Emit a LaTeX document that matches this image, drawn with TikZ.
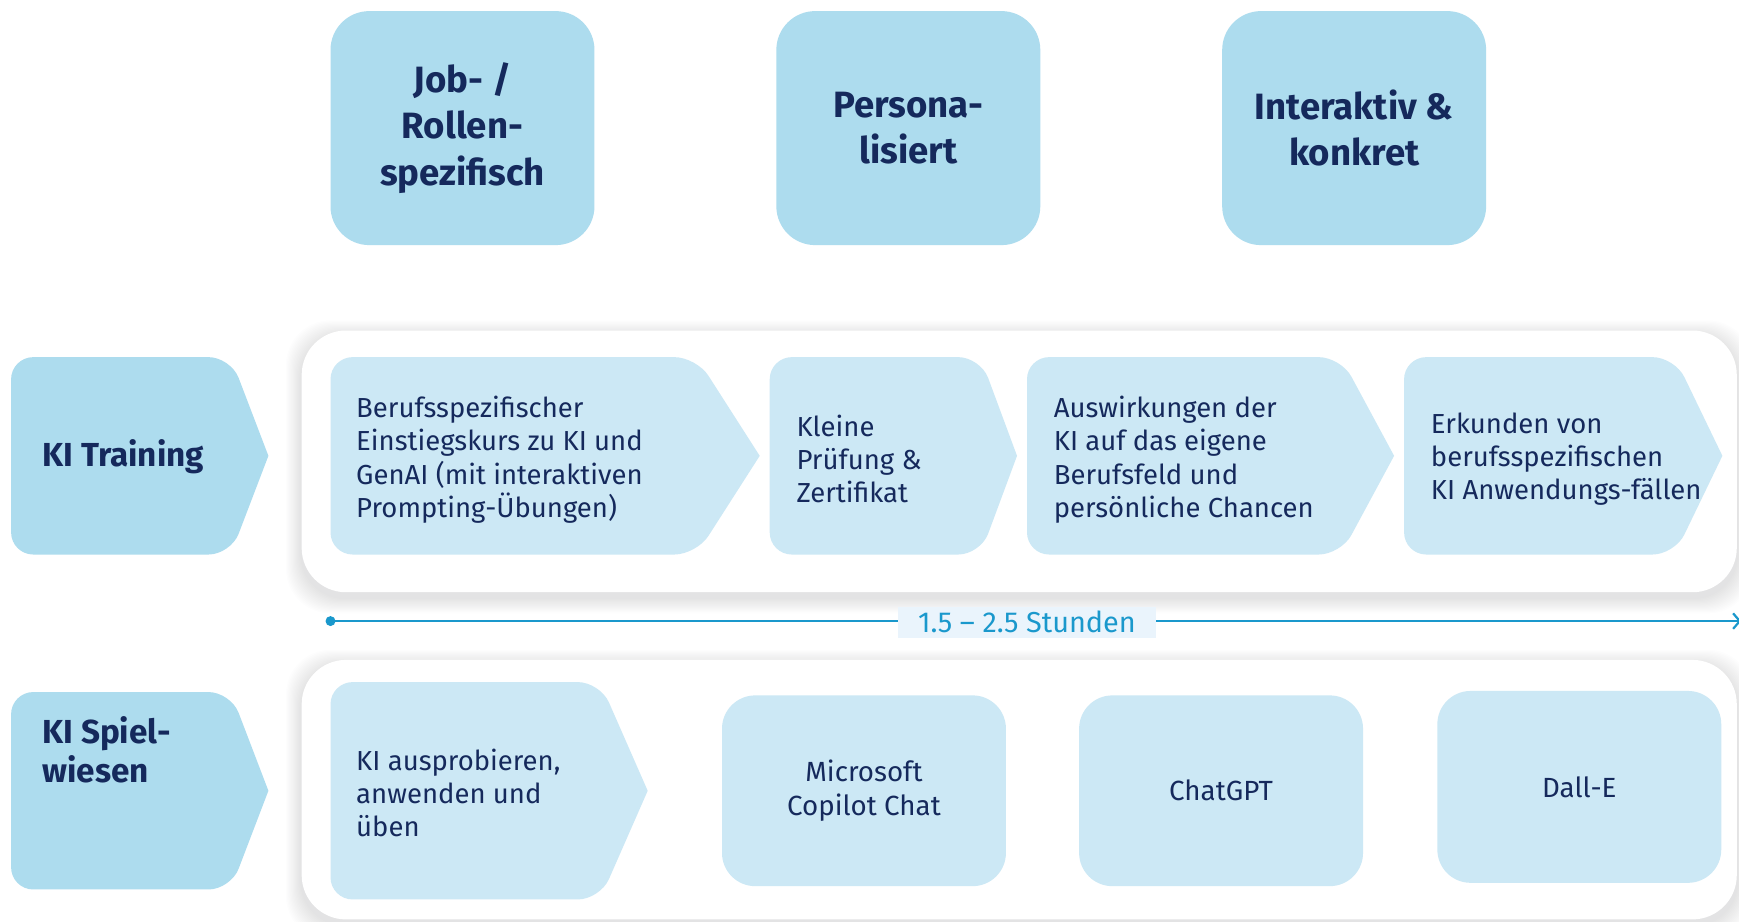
\documentclass[tikz,border=0pt]{standalone}
\usepackage{fontspec}
\setmainfont{Fira Sans}
\usetikzlibrary{arrows.meta}
\definecolor{navy}{HTML}{15295C}
\definecolor{boxdark}{HTML}{ADDCEE}
\definecolor{boxlight}{HTML}{CCE8F5}
\definecolor{lineblue}{HTML}{1A98CC}
\definecolor{labelbg}{HTML}{EAF4FC}
\definecolor{shadowc}{HTML}{5A7090}
\tikzset{
  topbox/.style={fill=boxdark, rounded corners=35pt, minimum width=238pt, minimum height=211pt,
    inner sep=0pt, align=center, text=navy, font=\bfseries\fontsize{33}{42}\selectfont},
  container/.style={fill=white, rounded corners=40pt, inner sep=0pt},
  toolbox/.style={fill=boxlight, rounded corners=30pt, minimum width=256pt, minimum height=172pt,
    inner sep=0pt, align=center, text=navy, font=\fontsize{25}{30}\selectfont},
  bodytext/.style={anchor=west, inner sep=0pt, align=left, text=navy, font=\fontsize{24.8}{30}\selectfont},
  labeltext/.style={anchor=west, inner sep=0pt, align=left, text=navy, font=\bfseries\fontsize{30}{35}\selectfont},
}
\newcommand\chevshape[6]{%
  \fill[#6, rounded corners=20pt] (#1,{(#2+#4)/2}) -- (#1,#2) -- (#5,#2) [sharp corners] -- (#3,{(#2+#4)/2}) [rounded corners=20pt] -- (#5,#4) -- (#1,#4) -- cycle;}
\newcommand\softshadow[4]{%
  \foreach \i in {1,...,14} {
    \fill[shadowc, opacity=0.012, rounded corners=40pt] ({#1-\i},{#2-\i+5}) rectangle ({#3+\i},{#4+\i+5});
  }}
\begin{document}
\begin{tikzpicture}[x=1pt,y=-1pt]
\useasboundingbox (0,0) rectangle (1568,831);
\fill[white] (0,0) rectangle (1568,831);

% top boxes
\node[topbox] (job) at (417,115.5) {Job- /\\Rollen-\\spezifisch};
\node[topbox] (pers) at (819,115.5) {Persona-\\lisiert};
\node[topbox] (inter) at (1221,115.5) {Interaktiv \&\\konkret};

% containers with soft shadows
\softshadow{272}{298}{1566}{534}
\softshadow{272}{595}{1566}{829}
\node[container, minimum width=1294pt, minimum height=236pt] (row1) at (919,416) {};
\node[container, minimum width=1294pt, minimum height=234pt] (row2) at (919,712) {};

% row 1
\chevshape{10}{322}{242}{500}{208}{boxdark}
\node[labeltext] (kit) at (38,412) {KI Training};
\chevshape{298}{322}{685}{500}{628}{boxlight}
\node[bodytext] (c1) at (321,414.5) {Berufsspezifischer\\Einstiegskurs zu KI und\\GenAI (mit interaktiven\\Prompting-Übungen)};
\chevshape{694}{322}{917}{500}{884}{boxlight}
\node[bodytext] (c2) at (718,414) {Kleine\\Prüfung \&\\Zertifikat};
\chevshape{926}{322}{1257}{500}{1209}{boxlight}
\node[bodytext] (c3) at (950,414.5) {Auswirkungen der\\KI auf das eigene\\Berufsfeld und\\persönliche Chancen};
\chevshape{1266}{322}{1553}{500}{1510}{boxlight}
\node[bodytext] (c4) at (1290,414) {Erkunden von\\berufsspezifischen\\KI Anwendungs-fällen};

% timeline
\coordinate (tl0) at (298,560);
\coordinate (tl1) at (1570,560);
\draw[lineblue, line width=2pt, -{Straight Barb[length=6pt,width=14pt]}] (tl0) -- (tl1);
\fill[lineblue] (tl0) circle (4.5pt);
\node[fill=labelbg, text=lineblue, minimum width=233pt, minimum height=28pt, inner sep=0pt,
  font=\fontsize{26}{28}\selectfont] (dur) at (926,561) {1.5 – 2.5 Stunden};

% row 2
\chevshape{10}{624}{242}{802}{208}{boxdark}
\node[labeltext] (kis) at (38,676) {KI Spiel-\\wiesen};
\chevshape{298}{615}{584}{811}{541}{boxlight}
\node[bodytext] (c5) at (321,715) {KI ausprobieren,\\anwenden und\\üben};
\node[toolbox] (copilot) at (779,713) {Microsoft\\Copilot Chat};
\node[toolbox] (gpt) at (1101,713) {ChatGPT};
\node[toolbox, minimum height=173pt] (dalle) at (1424,709.5) {Dall-E};
\end{tikzpicture}
\end{document}
